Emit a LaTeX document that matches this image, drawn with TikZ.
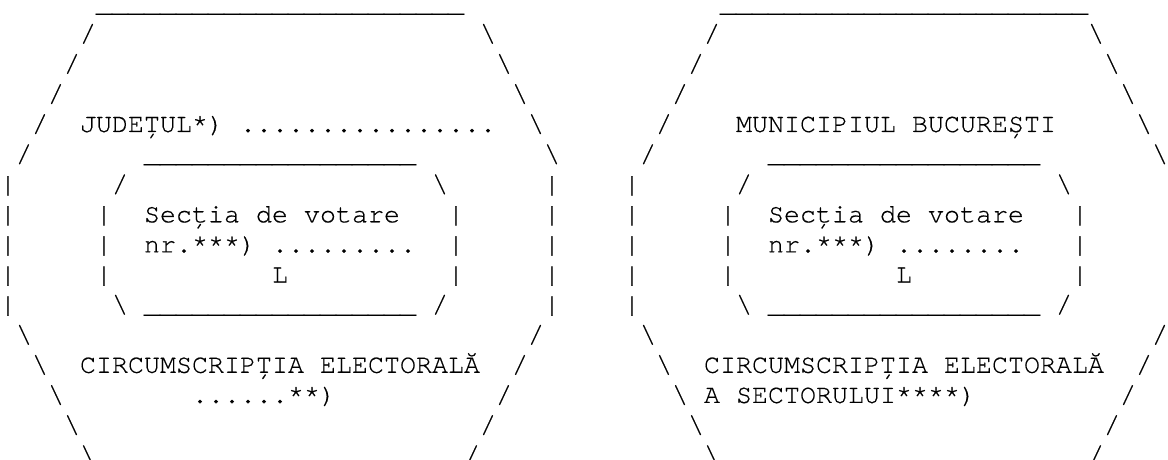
\documentclass[tikz,border=0pt]{standalone}
\usepackage{fontspec}
\newfontfamily\asciifont[FakeBold=0.4]{TeX Gyre Cursor}

\newcommand{\glfwd}{/}
\newcommand{\glbck}{\textbackslash}
\newcommand{\glbar}{|}
\newcommand{\glline}[1]{\foreach\i in {1,...,#1}{\_}}
\newcommand{\gldots}[1]{\foreach\i in {1,...,#1}{.}}

\tikzset{glyph/.style={anchor=base west,inner sep=0pt,outer sep=0pt,
  font=\asciifont\fontsize{20}{22}\selectfont}}

\begin{document}
\begin{tikzpicture}[x=0.75pt,y=0.75pt]

\newcommand{\colw}{16}
\newcommand{\rowh}{30.1}

\useasboundingbox (0,0) rectangle (1168,-460);

% left sign
\foreach \r/\c/\txt in {
  1/6/{\glline{23}},
  2/5/\glfwd, 2/30/\glbck,
  3/4/\glfwd, 3/31/\glbck,
  4/3/\glfwd, 4/32/\glbck,
  5/2/\glfwd, 5/5/{JUDEȚUL*)}, 5/15/{\gldots{16}}, 5/33/\glbck,
  6/1/\glfwd, 6/9/{\glline{17}}, 6/34/\glbck,
  7/0/\glbar, 7/7/\glfwd, 7/27/\glbck, 7/34/\glbar,
  8/0/\glbar, 8/6/\glbar, 8/9/{Secția de votare}, 8/28/\glbar, 8/34/\glbar,
  9/0/\glbar, 9/6/\glbar, 9/9/{nr.***)}, 9/17/{\gldots{9}}, 9/28/\glbar, 9/34/\glbar,
  10/0/\glbar, 10/6/\glbar, 10/17/L, 10/28/\glbar, 10/34/\glbar,
  11/0/\glbar, 11/7/\glbck, 11/9/{\glline{17}}, 11/27/\glfwd, 11/34/\glbar,
  12/1/\glbck, 12/33/\glfwd,
  13/2/\glbck, 13/5/{CIRCUMSCRIPȚIA ELECTORALĂ}, 13/32/\glfwd,
  14/3/\glbck, 14/12/{\gldots{6}**)}, 14/31/\glfwd,
  15/4/\glbck, 15/30/\glfwd,
  16/5/\glbck, 16/29/\glfwd}
  \node[glyph] (l\r-\c) at ({\c*\colw},{-(11.6+(\r-1)*\rowh)}) {\txt};

% right sign
\foreach \r/\c/\txt in {
  1/45/{\glline{23}},
  2/44/\glfwd, 2/68/\glbck,
  3/43/\glfwd, 3/69/\glbck,
  4/42/\glfwd, 4/70/\glbck,
  5/41/\glfwd, 5/46/{MUNICIPIUL BUCUREȘTI}, 5/71/\glbck,
  6/40/\glfwd, 6/48/{\glline{17}}, 6/72/\glbck,
  7/39/\glbar, 7/46/\glfwd, 7/66/\glbck,
  8/39/\glbar, 8/45/\glbar, 8/48/{Secția de votare}, 8/67/\glbar,
  9/39/\glbar, 9/45/\glbar, 9/48/{nr.***)}, 9/56/{\gldots{8}}, 9/67/\glbar,
  10/39/\glbar, 10/45/\glbar, 10/56/L, 10/67/\glbar,
  11/39/\glbar, 11/46/\glbck, 11/48/{\glline{17}}, 11/66/\glfwd,
  12/40/\glbck, 12/72/\glfwd,
  13/41/\glbck, 13/44/{CIRCUMSCRIPȚIA ELECTORALĂ}, 13/71/\glfwd,
  14/42/\glbck, 14/44/{A SECTORULUI****)}, 14/70/\glfwd,
  15/43/\glbck, 15/69/\glfwd,
  16/44/\glbck, 16/68/\glfwd}
  \node[glyph] (r\r-\c) at ({\c*\colw},{-(11.6+(\r-1)*\rowh)}) {\txt};

\end{tikzpicture}
\end{document}
